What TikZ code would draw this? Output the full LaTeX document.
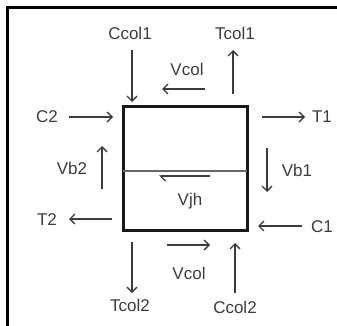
\documentclass[tikz,border=0pt]{standalone}
\usepackage{fontspec}
\setmainfont{Liberation Sans}
\usetikzlibrary{arrows.meta}
\definecolor{inkgray}{HTML}{3C3C3C}

\begin{document}
\begin{tikzpicture}[
            x=1pt, y=-1pt,
            every node/.style={font=\fontsize{17}{19}\selectfont, text=inkgray,
                    inner sep=0pt, text height=12pt, text depth=0pt},
            frame/.style={draw=black, line width=2.4pt},
            joint/.style={draw=black!90, line width=3pt},
            split/.style={draw=black!60, line width=1.6pt},
            force/.style={draw=inkgray, line width=1.3pt,
                    -{Straight Barb[length=5pt, width=10pt]}},
            shear/.style={draw=inkgray, line width=1.3pt,
                    -{Straight Barb[harpoon, length=5pt, width=10pt]}}
        ]

        \useasboundingbox (0,0) rectangle (337,326);

        % =============== bingkai ===============
        \draw[frame] (337,7.5) -- (7.5,7.5) -- (7.5,326);

        % =============== kotak joint ===============
        \draw[joint] (123,107) rectangle (247,230);
        \draw[split] (123,171) -- (247,171);

        % =============== gaya di sisi atas ===============
        \node (ccolA) at (130,34) {Ccol1};
        \node (tcolA) at (235,34) {Tcol1};
        \node (vcolA) at (187,70) {Vcol};
        \draw[force] (132,50) -- (132,102);
        \draw[force] (233,94) -- (233,50);
        \draw[force] (205,89) -- (162,89);

        % =============== gaya di sisi kiri dan kanan ===============
        \node (cB) at (47,117) {C2};
        \node (tA) at (322,117) {T1};
        \draw[force] (69,117) -- (113,117);
        \draw[force] (262,117) -- (305,117);

        \node (vbB) at (72,168) {Vb2};
        \node (vbA) at (297,170) {Vb1};
        \draw[force] (102,189) -- (102,146);
        \draw[force] (267,148) -- (267,192);

        \node (tB) at (47,219) {T2};
        \node (cA) at (322,226) {C1};
        \draw[force] (112,219) -- (69,219);
        \draw[force] (302,226) -- (258,226);

        % =============== geser joint ===============
        \node (vjh) at (190,199) {Vjh};
        \draw[shear] (210,176) -- (159,176);

        % =============== gaya di sisi bawah ===============
        \node (vcolB) at (189,273) {Vcol};
        \node (tcolB) at (130,305) {Tcol2};
        \node (ccolB) at (235,307) {Ccol2};
        \draw[force] (167,245) -- (210,245);
        \draw[force] (132,242) -- (132,293);
        \draw[force] (235,293) -- (235,243);

    \end{tikzpicture}
\end{document}
